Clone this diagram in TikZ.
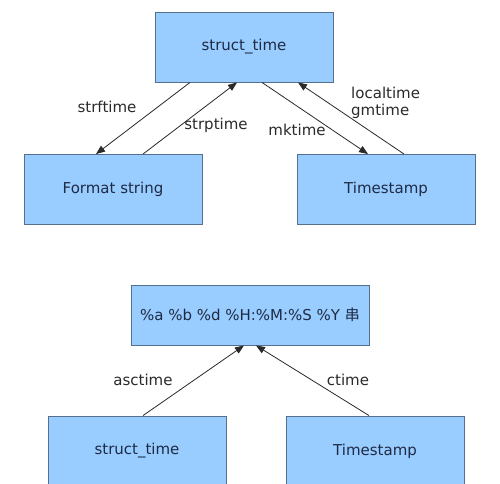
\documentclass[tikz,border=0pt]{standalone}
\usepackage{fontspec}
\setmainfont{DejaVu Sans}
\newfontfamily\cjkfont{Noto Sans CJK SC}
\usetikzlibrary{arrows.meta}
\definecolor{boxfill}{HTML}{99CCFF}
\definecolor{boxline}{HTML}{55708F}
\definecolor{boxtext}{HTML}{1E2B45}
\definecolor{linecol}{HTML}{2A2A2A}
\tikzset{
  tbox/.style={draw=boxline, line width=0.9pt, fill=boxfill, text=boxtext,
    minimum width=178pt, minimum height=70pt, inner sep=0pt,
    font=\fontsize{15}{18}\selectfont},
  conn/.style={draw=linecol, line width=0.8pt,
    -{Triangle[length=9pt,width=7pt]}},
  lbl/.style={text=linecol, font=\fontsize{15}{17}\selectfont, inner sep=0pt}
}
\begin{document}
\begin{tikzpicture}[x=1pt,y=-1pt]
\useasboundingbox[fill=white] (0,0) rectangle (500,483);
\node[tbox] (st) at (244,47) {struct\_time};
\node[tbox] (fs) at (113,189.5) {Format string};
\node[tbox] (ts) at (386,189.5) {Timestamp};
\node[tbox, minimum width=238pt, minimum height=60pt] (fmt) at (250,315) {\%a \%b \%d \%H:\%M:\%S \%Y {\cjkfont 串}};
\node[tbox] (st2) at (137,451) {struct\_time};
\node[tbox] (ts2) at (375,451) {Timestamp};

\draw[conn] ([xshift=-54pt]st.south) -- ([xshift=-17pt]fs.north);
\draw[conn] ([xshift=30pt]fs.north) -- ([xshift=-7pt]st.south);
\draw[conn] ([xshift=18pt]st.south) -- ([xshift=-18pt]ts.north);
\draw[conn] ([xshift=18pt]ts.north) -- ([xshift=54pt]st.south);
\draw[conn] ([xshift=6pt]st2.north) -- ([xshift=-6pt]fmt.south);
\draw[conn] ([xshift=-6pt]ts2.north) -- ([xshift=6pt]fmt.south);

\node[lbl] (l1) at (107,107) {strftime};
\node[lbl] (l2) at (216,125) {strptime};
\node[lbl] (l3) at (297,130) {mktime};
\node[lbl, align=left, anchor=west] (l4) at (351,103) {localtime\\gmtime};
\node[lbl] (l5) at (143,380) {asctime};
\node[lbl] (l6) at (348,380) {ctime};
\end{tikzpicture}
\end{document}
